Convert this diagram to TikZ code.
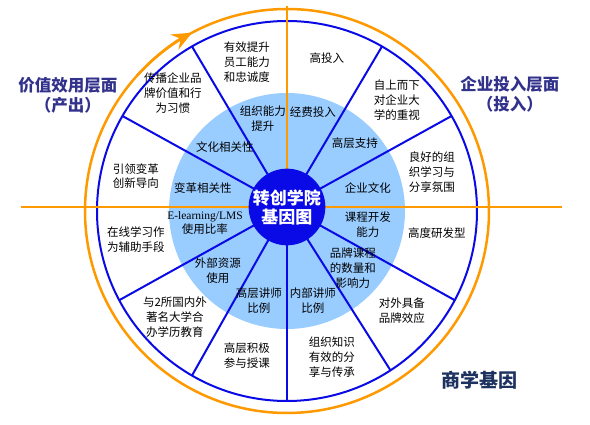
\documentclass[tikz,border=0pt]{standalone}
\usepackage{fontspec}
\setmainfont{Noto Sans CJK SC}
\newfontfamily\lmsfont{Liberation Serif}
\usetikzlibrary{arrows.meta}
\definecolor{wheelblue}{RGB}{10,10,230}
\definecolor{lightring}{RGB}{153,204,255}
\definecolor{ringorange}{RGB}{255,153,0}
\definecolor{titlenavy}{RGB}{50,50,140}
\definecolor{genenavy}{RGB}{30,50,95}

\begin{document}
\begin{tikzpicture}[x=1pt,y=1pt,
  lbl/.style={align=center,font=\fontsize{11.5}{14.8}\selectfont,inner sep=0pt},
  ttl/.style={align=center,font=\fontsize{16.5}{20}\selectfont\bfseries,text=titlenavy,inner sep=0pt},
  spoke/.style={wheelblue,line width=2pt},
  orangeline/.style={ringorange,line width=2.5pt}]
  \useasboundingbox (-287,-218) rectangle (303,207);
  \coordinate (o) at (0,-4);
  % rings
  \fill[lightring] (o) circle (118);
  \draw[spoke] (o) circle (190);
  \draw[orangeline] (o) circle (202);
  \draw[orangeline,-{Stealth[length=20pt,width=17pt,inset=7pt]}] ([shift={(o)}]138:202) arc[start angle=138,end angle=118,radius=202];
  % axes and spokes
  \coordinate (west) at (-266,0);
  \coordinate (east) at (275,0);
  \coordinate (north) at (0,201);
  \draw[orangeline] (west) -- (east);
  \draw[orangeline] (north) -- (0,0);
  \foreach \a in {60,30,120,150,-28,-57,-90,-120,-152}
    \draw[spoke] (0,0) -- ([shift={(o)}]\a:190);
  \node[circle,fill=wheelblue,minimum size=72pt,inner sep=0pt,align=center,text=white,
        font=\fontsize{17}{19}\selectfont\bfseries] (hub) at (0,0) {转创学院\\基因图};

  % outer ring
  \node[lbl] (gaotouru) at (40,149) {高投入};
  \node[lbl] (yuangong) at (-40,145) {有效提升\\员工能力\\和忠诚度};
  \node[lbl] (zhongshi) at (110,107) {自上而下\\对企业大\\学的重视};
  \node[lbl] (fenwei) at (145,35) {良好的组\\织学习与\\分享氛围};
  \node[lbl] (yanfa) at (150,-26) {高度研发型};
  \node[lbl] (xiaoying) at (115,-104) {对外具备\\品牌效应};
  \node[lbl] (chuancheng) at (45,-150) {组织知识\\有效的分\\享与传承};
  \node[lbl] (shouke) at (-40,-149) {高层积极\\参与授课};
  \node[lbl] (xueli) at (-112,-110) {与2所国内外\\著名大学合\\办学历教育};
  \node[lbl] (zaixian) at (-151,-33) {在线学习作\\为辅助手段};
  \node[lbl] (chuangxin) at (-151,31) {引领变革\\创新导向};
  \node[lbl] (pinpai) at (-114,114) {传播企业品\\牌价值和行\\为习惯};

  % inner ring
  \node[lbl] (nengli) at (-24,88) {组织能力\\提升};
  \node[lbl] (jingfei) at (26,95) {经费投入};
  \node[lbl] (zhichi) at (68,64) {高层支持};
  \node[lbl] (wenhua) at (81,19) {企业文化};
  \node[lbl] (kaifa) at (81,-18) {课程开发\\能力};
  \node[lbl] (kecheng) at (66,-61) {品牌课程\\的数量和\\影响力};
  \node[lbl] (neibu) at (26,-94) {内部讲师\\比例};
  \node[lbl] (gaoceng) at (-28,-94) {高层讲师\\比例};
  \node[lbl] (waibu) at (-69,-64) {外部资源\\使用};
  \node[lbl] (lms) at (-82,-16) {{\lmsfont E-learning/LMS}\\使用比率};
  \node[lbl] (biange) at (-84,19) {变革相关性};
  \node[lbl] (xiangguan) at (-62,60) {文化相关性};

  % titles
  \node[ttl] (chanchu) at (-219,112) {价值效用层面\\（产出）};
  \node[ttl] (touru) at (223,113) {企业投入层面\\（投入）};
  \node[ttl,text=genenavy,font=\fontsize{19}{22}\selectfont\bfseries] (jiyin) at (193,-173) {商学基因};
\end{tikzpicture}
\end{document}
